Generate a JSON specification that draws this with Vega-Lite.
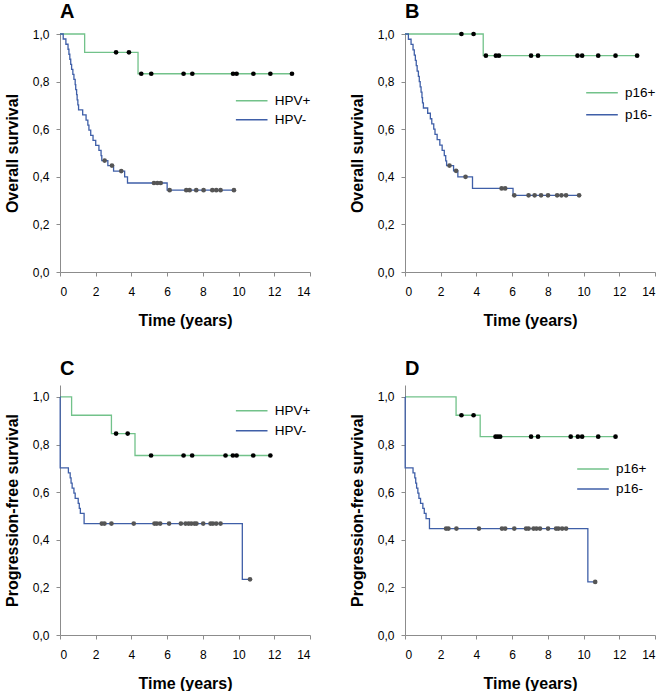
{
"$schema":"https://vega.github.io/schema/vega-lite/v6.json",
"background":"white",
"padding":{"left":4,"top":2,"right":0,"bottom":0},
"config":{
 "view":{"stroke":null},
 "font":"Liberation Sans",
 "axis":{"grid":false,"domainColor":"#8c8c8c","tickColor":"#8c8c8c","tickSize":4,"labelFont":"Liberation Sans","labelFontSize":12,"labelColor":"#000","labelPadding":7,"titleFont":"Liberation Sans","titleFontSize":16,"titleFontWeight":"bold","titleColor":"#000","titlePadding":12},
 "axisX":{"labelPadding":10,"titlePadding":15},
 "title":{"font":"Liberation Sans","fontSize":20,"fontWeight":"bold","anchor":"start","frame":"group","offset":6,"color":"#000"},
 "legend":{"orient":"none","title":null,"symbolType":"stroke","symbolSize":1000,"symbolStrokeWidth":1.5,"labelFont":"Liberation Sans","labelFontSize":13.5,"labelColor":"#000","labelOffset":6,"rowPadding":0,"padding":0}
},
"datasets":{
"A":[
{"g":"HPV+","k":"s","t":0,"s":1},{"g":"HPV+","k":"e","t":1.38,"s":0.923},{"g":"HPV+","k":"c","t":3.14,"s":0.923},{"g":"HPV+","k":"c","t":3.86,"s":0.923},{"g":"HPV+","k":"e","t":4.37,"s":0.833},{"g":"HPV+","k":"c","t":4.55,"s":0.833},{"g":"HPV+","k":"c","t":5.11,"s":0.833},{"g":"HPV+","k":"c","t":6.92,"s":0.833},{"g":"HPV+","k":"c","t":7.41,"s":0.833},{"g":"HPV+","k":"c","t":9.69,"s":0.833},{"g":"HPV+","k":"c","t":9.89,"s":0.833},{"g":"HPV+","k":"c","t":10.83,"s":0.833},{"g":"HPV+","k":"c","t":11.78,"s":0.833},{"g":"HPV+","k":"c","t":12.99,"s":0.833},
{"g":"HPV-","k":"s","t":0,"s":1},{"g":"HPV-","k":"e","t":0.18,"s":0.979},{"g":"HPV-","k":"e","t":0.33,"s":0.957},{"g":"HPV-","k":"e","t":0.45,"s":0.936},{"g":"HPV-","k":"e","t":0.5,"s":0.915},{"g":"HPV-","k":"e","t":0.55,"s":0.894},{"g":"HPV-","k":"e","t":0.6,"s":0.872},{"g":"HPV-","k":"e","t":0.65,"s":0.851},{"g":"HPV-","k":"e","t":0.72,"s":0.83},{"g":"HPV-","k":"e","t":0.78,"s":0.809},{"g":"HPV-","k":"e","t":0.85,"s":0.787},{"g":"HPV-","k":"e","t":0.88,"s":0.766},{"g":"HPV-","k":"e","t":0.93,"s":0.745},{"g":"HPV-","k":"e","t":0.96,"s":0.723},{"g":"HPV-","k":"e","t":1.0,"s":0.702},{"g":"HPV-","k":"e","t":1.04,"s":0.681},{"g":"HPV-","k":"e","t":1.27,"s":0.66},{"g":"HPV-","k":"e","t":1.46,"s":0.638},{"g":"HPV-","k":"e","t":1.56,"s":0.617},{"g":"HPV-","k":"e","t":1.62,"s":0.596},{"g":"HPV-","k":"e","t":1.72,"s":0.574},{"g":"HPV-","k":"e","t":1.85,"s":0.553},{"g":"HPV-","k":"e","t":2.0,"s":0.532},{"g":"HPV-","k":"e","t":2.18,"s":0.511},{"g":"HPV-","k":"e","t":2.3,"s":0.489},{"g":"HPV-","k":"e","t":2.34,"s":0.468},{"g":"HPV-","k":"c","t":2.5,"s":0.468},{"g":"HPV-","k":"e","t":2.68,"s":0.447},{"g":"HPV-","k":"c","t":2.91,"s":0.447},{"g":"HPV-","k":"e","t":3.0,"s":0.424},{"g":"HPV-","k":"c","t":3.43,"s":0.424},{"g":"HPV-","k":"e","t":3.62,"s":0.4},{"g":"HPV-","k":"e","t":3.78,"s":0.374},{"g":"HPV-","k":"c","t":5.26,"s":0.374},{"g":"HPV-","k":"c","t":5.45,"s":0.374},{"g":"HPV-","k":"c","t":5.64,"s":0.374},{"g":"HPV-","k":"e","t":6.0,"s":0.344},{"g":"HPV-","k":"c","t":6.14,"s":0.344},{"g":"HPV-","k":"c","t":7.07,"s":0.344},{"g":"HPV-","k":"c","t":7.26,"s":0.344},{"g":"HPV-","k":"c","t":7.63,"s":0.344},{"g":"HPV-","k":"c","t":8.04,"s":0.344},{"g":"HPV-","k":"c","t":8.53,"s":0.344},{"g":"HPV-","k":"c","t":8.75,"s":0.344},{"g":"HPV-","k":"c","t":8.99,"s":0.344},{"g":"HPV-","k":"c","t":9.74,"s":0.344}
],
"B":[
{"g":"p16+","k":"s","t":0,"s":1},{"g":"p16+","k":"c","t":3.16,"s":1},{"g":"p16+","k":"c","t":3.84,"s":1},{"g":"p16+","k":"e","t":4.38,"s":0.909},{"g":"p16+","k":"c","t":4.53,"s":0.909},{"g":"p16+","k":"c","t":5.09,"s":0.909},{"g":"p16+","k":"c","t":5.26,"s":0.909},{"g":"p16+","k":"c","t":7.06,"s":0.909},{"g":"p16+","k":"c","t":7.45,"s":0.909},{"g":"p16+","k":"c","t":9.66,"s":0.909},{"g":"p16+","k":"c","t":9.92,"s":0.909},{"g":"p16+","k":"c","t":10.82,"s":0.909},{"g":"p16+","k":"c","t":11.79,"s":0.909},{"g":"p16+","k":"c","t":13.0,"s":0.909},
{"g":"p16-","k":"s","t":0,"s":1},{"g":"p16-","k":"e","t":0.19,"s":0.978},{"g":"p16-","k":"e","t":0.34,"s":0.956},{"g":"p16-","k":"e","t":0.45,"s":0.933},{"g":"p16-","k":"e","t":0.52,"s":0.911},{"g":"p16-","k":"e","t":0.58,"s":0.889},{"g":"p16-","k":"e","t":0.63,"s":0.867},{"g":"p16-","k":"e","t":0.68,"s":0.844},{"g":"p16-","k":"e","t":0.75,"s":0.822},{"g":"p16-","k":"e","t":0.8,"s":0.8},{"g":"p16-","k":"e","t":0.85,"s":0.778},{"g":"p16-","k":"e","t":0.9,"s":0.756},{"g":"p16-","k":"e","t":0.95,"s":0.733},{"g":"p16-","k":"e","t":0.98,"s":0.711},{"g":"p16-","k":"e","t":1.03,"s":0.689},{"g":"p16-","k":"e","t":1.27,"s":0.667},{"g":"p16-","k":"e","t":1.42,"s":0.644},{"g":"p16-","k":"e","t":1.5,"s":0.622},{"g":"p16-","k":"e","t":1.61,"s":0.6},{"g":"p16-","k":"e","t":1.68,"s":0.578},{"g":"p16-","k":"e","t":1.8,"s":0.556},{"g":"p16-","k":"e","t":1.95,"s":0.533},{"g":"p16-","k":"e","t":2.08,"s":0.511},{"g":"p16-","k":"e","t":2.2,"s":0.489},{"g":"p16-","k":"e","t":2.28,"s":0.467},{"g":"p16-","k":"e","t":2.33,"s":0.447},{"g":"p16-","k":"c","t":2.49,"s":0.447},{"g":"p16-","k":"e","t":2.72,"s":0.425},{"g":"p16-","k":"c","t":2.86,"s":0.425},{"g":"p16-","k":"e","t":2.96,"s":0.4},{"g":"p16-","k":"c","t":3.39,"s":0.4},{"g":"p16-","k":"e","t":3.78,"s":0.351},{"g":"p16-","k":"c","t":5.41,"s":0.351},{"g":"p16-","k":"c","t":5.61,"s":0.351},{"g":"p16-","k":"e","t":6.05,"s":0.322},{"g":"p16-","k":"c","t":6.12,"s":0.322},{"g":"p16-","k":"c","t":6.92,"s":0.322},{"g":"p16-","k":"c","t":7.26,"s":0.322},{"g":"p16-","k":"c","t":7.62,"s":0.322},{"g":"p16-","k":"c","t":8.01,"s":0.322},{"g":"p16-","k":"c","t":8.52,"s":0.322},{"g":"p16-","k":"c","t":8.76,"s":0.322},{"g":"p16-","k":"c","t":9.02,"s":0.322},{"g":"p16-","k":"c","t":9.75,"s":0.322}
],
"C":[
{"g":"HPV+","k":"s","t":0,"s":1},{"g":"HPV+","k":"e","t":0.65,"s":0.923},{"g":"HPV+","k":"e","t":2.88,"s":0.846},{"g":"HPV+","k":"c","t":3.14,"s":0.846},{"g":"HPV+","k":"c","t":3.79,"s":0.846},{"g":"HPV+","k":"e","t":4.2,"s":0.754},{"g":"HPV+","k":"c","t":5.1,"s":0.754},{"g":"HPV+","k":"c","t":6.92,"s":0.754},{"g":"HPV+","k":"c","t":7.4,"s":0.754},{"g":"HPV+","k":"c","t":9.27,"s":0.754},{"g":"HPV+","k":"c","t":9.68,"s":0.754},{"g":"HPV+","k":"c","t":9.89,"s":0.754},{"g":"HPV+","k":"c","t":10.82,"s":0.754},{"g":"HPV+","k":"c","t":11.78,"s":0.754},
{"g":"HPV-","k":"s","t":0,"s":1},{"g":"HPV-","k":"e","t":0.01,"s":0.702},{"g":"HPV-","k":"e","t":0.47,"s":0.681},{"g":"HPV-","k":"e","t":0.57,"s":0.66},{"g":"HPV-","k":"e","t":0.62,"s":0.638},{"g":"HPV-","k":"e","t":0.68,"s":0.617},{"g":"HPV-","k":"e","t":0.78,"s":0.596},{"g":"HPV-","k":"e","t":0.85,"s":0.574},{"g":"HPV-","k":"e","t":1.02,"s":0.553},{"g":"HPV-","k":"e","t":1.08,"s":0.532},{"g":"HPV-","k":"e","t":1.14,"s":0.511},{"g":"HPV-","k":"e","t":1.35,"s":0.468},{"g":"HPV-","k":"c","t":2.34,"s":0.468},{"g":"HPV-","k":"c","t":2.49,"s":0.468},{"g":"HPV-","k":"c","t":2.88,"s":0.468},{"g":"HPV-","k":"c","t":4.13,"s":0.468},{"g":"HPV-","k":"c","t":5.29,"s":0.468},{"g":"HPV-","k":"c","t":5.42,"s":0.468},{"g":"HPV-","k":"c","t":5.61,"s":0.468},{"g":"HPV-","k":"c","t":6.11,"s":0.468},{"g":"HPV-","k":"c","t":6.77,"s":0.468},{"g":"HPV-","k":"c","t":7.03,"s":0.468},{"g":"HPV-","k":"c","t":7.2,"s":0.468},{"g":"HPV-","k":"c","t":7.35,"s":0.468},{"g":"HPV-","k":"c","t":7.53,"s":0.468},{"g":"HPV-","k":"c","t":7.64,"s":0.468},{"g":"HPV-","k":"c","t":8.02,"s":0.468},{"g":"HPV-","k":"c","t":8.43,"s":0.468},{"g":"HPV-","k":"c","t":8.56,"s":0.468},{"g":"HPV-","k":"c","t":8.75,"s":0.468},{"g":"HPV-","k":"c","t":8.99,"s":0.468},{"g":"HPV-","k":"e","t":10.21,"s":0.234},{"g":"HPV-","k":"c","t":10.64,"s":0.234}
],
"D":[
{"g":"p16+","k":"s","t":0,"s":1},{"g":"p16+","k":"e","t":2.86,"s":0.923},{"g":"p16+","k":"c","t":3.16,"s":0.923},{"g":"p16+","k":"c","t":3.84,"s":0.923},{"g":"p16+","k":"e","t":4.21,"s":0.833},{"g":"p16+","k":"c","t":5.07,"s":0.833},{"g":"p16+","k":"c","t":5.2,"s":0.833},{"g":"p16+","k":"c","t":5.33,"s":0.833},{"g":"p16+","k":"c","t":7.06,"s":0.833},{"g":"p16+","k":"c","t":7.45,"s":0.833},{"g":"p16+","k":"c","t":9.28,"s":0.833},{"g":"p16+","k":"c","t":9.68,"s":0.833},{"g":"p16+","k":"c","t":9.92,"s":0.833},{"g":"p16+","k":"c","t":10.82,"s":0.833},{"g":"p16+","k":"c","t":11.79,"s":0.833},
{"g":"p16-","k":"s","t":0,"s":1},{"g":"p16-","k":"e","t":0.01,"s":0.702},{"g":"p16-","k":"e","t":0.45,"s":0.681},{"g":"p16-","k":"e","t":0.55,"s":0.66},{"g":"p16-","k":"e","t":0.6,"s":0.638},{"g":"p16-","k":"e","t":0.65,"s":0.617},{"g":"p16-","k":"e","t":0.72,"s":0.596},{"g":"p16-","k":"e","t":0.78,"s":0.574},{"g":"p16-","k":"e","t":0.87,"s":0.553},{"g":"p16-","k":"e","t":1.0,"s":0.532},{"g":"p16-","k":"e","t":1.08,"s":0.511},{"g":"p16-","k":"e","t":1.18,"s":0.489},{"g":"p16-","k":"e","t":1.37,"s":0.447},{"g":"p16-","k":"c","t":2.3,"s":0.447},{"g":"p16-","k":"c","t":2.43,"s":0.447},{"g":"p16-","k":"c","t":2.88,"s":0.447},{"g":"p16-","k":"c","t":4.14,"s":0.447},{"g":"p16-","k":"c","t":5.43,"s":0.447},{"g":"p16-","k":"c","t":5.61,"s":0.447},{"g":"p16-","k":"c","t":6.12,"s":0.447},{"g":"p16-","k":"c","t":6.78,"s":0.447},{"g":"p16-","k":"c","t":6.92,"s":0.447},{"g":"p16-","k":"c","t":7.2,"s":0.447},{"g":"p16-","k":"c","t":7.36,"s":0.447},{"g":"p16-","k":"c","t":7.56,"s":0.447},{"g":"p16-","k":"c","t":8.01,"s":0.447},{"g":"p16-","k":"c","t":8.46,"s":0.447},{"g":"p16-","k":"c","t":8.59,"s":0.447},{"g":"p16-","k":"c","t":8.8,"s":0.447},{"g":"p16-","k":"c","t":9.02,"s":0.447},{"g":"p16-","k":"e","t":10.24,"s":0.223},{"g":"p16-","k":"c","t":10.65,"s":0.223}
]
},
"spacing":31,
"resolve":{"scale":{"stroke":"independent","fill":"independent"},"legend":{"stroke":"independent"}},
"vconcat":[
{"spacing":38,
 "resolve":{"scale":{"stroke":"independent","fill":"independent"},"legend":{"stroke":"independent"}},
 "hconcat":[
 {"width":250,"height":238,"title":"A","data":{"name":"A"},
  "encoding":{
   "x":{"field":"t","type":"quantitative","scale":{"domain":[0,14],"nice":false},"axis":{"values":[0,2,4,6,8,10,12,14],"title":"Time (years)","format":"d"}},
   "y":{"field":"s","type":"quantitative","scale":{"domain":[0,1],"nice":false},"axis":{"values":[0,0.2,0.4,0.6,0.8,1],"title":"Overall survival","labelExpr":"replace(format(datum.value,'.1f'),'.',',')"}}},
  "layer":[
   {"mark":{"type":"line","interpolate":"step-after","strokeWidth":1.3},
    "encoding":{"stroke":{"field":"g","type":"nominal","scale":{"domain":["HPV+","HPV-"],"range":["#72c28a","#3f5fa8"]},"legend":{"legendX":174.7,"legendY":57.5,"clipHeight":18.4}}}},
   {"transform":[{"filter":"datum.k=='c'"}],"mark":{"type":"circle","size":22,"opacity":1},
    "encoding":{"fill":{"field":"g","type":"nominal","scale":{"domain":["HPV+","HPV-"],"range":["#000000","#555555"]},"legend":null}}}
  ]},
 {"width":250,"height":238,"title":"B","data":{"name":"B"},
  "encoding":{
   "x":{"field":"t","type":"quantitative","scale":{"domain":[0,14],"nice":false},"axis":{"values":[0,2,4,6,8,10,12,14],"title":"Time (years)","format":"d"}},
   "y":{"field":"s","type":"quantitative","scale":{"domain":[0,1],"nice":false},"axis":{"values":[0,0.2,0.4,0.6,0.8,1],"title":"Overall survival","labelExpr":"replace(format(datum.value,'.1f'),'.',',')"}}},
  "layer":[
   {"mark":{"type":"line","interpolate":"step-after","strokeWidth":1.3},
    "encoding":{"stroke":{"field":"g","type":"nominal","scale":{"domain":["p16+","p16-"],"range":["#72c28a","#3f5fa8"]},"legend":{"legendX":180,"legendY":48,"clipHeight":21.3}}}},
   {"transform":[{"filter":"datum.k=='c'"}],"mark":{"type":"circle","size":22,"opacity":1},
    "encoding":{"fill":{"field":"g","type":"nominal","scale":{"domain":["p16+","p16-"],"range":["#000000","#555555"]},"legend":null}}}
  ]}
 ]},
{"spacing":38,
 "resolve":{"scale":{"stroke":"independent","fill":"independent"},"legend":{"stroke":"independent"}},
 "hconcat":[
 {"width":250,"height":250,"title":"C","data":{"name":"C"},
  "encoding":{
   "x":{"field":"t","type":"quantitative","scale":{"domain":[0,14],"nice":false},"axis":{"values":[0,2,4,6,8,10,12,14],"title":"Time (years)","format":"d"}},
   "y":{"field":"s","type":"quantitative","scale":{"domain":[0,1.05],"nice":false},"axis":{"values":[0,0.2,0.4,0.6,0.8,1],"title":"Progression-free survival","labelExpr":"replace(format(datum.value,'.1f'),'.',',')"}}},
  "layer":[
   {"mark":{"type":"line","interpolate":"step-after","strokeWidth":1.3},
    "encoding":{"stroke":{"field":"g","type":"nominal","scale":{"domain":["HPV+","HPV-"],"range":["#72c28a","#3f5fa8"]},"legend":{"legendX":174.7,"legendY":16,"clipHeight":19.3}}}},
   {"transform":[{"filter":"datum.k=='c'"}],"mark":{"type":"circle","size":22,"opacity":1},
    "encoding":{"fill":{"field":"g","type":"nominal","scale":{"domain":["HPV+","HPV-"],"range":["#000000","#555555"]},"legend":null}}}
  ]},
 {"width":250,"height":250,"title":"D","data":{"name":"D"},
  "encoding":{
   "x":{"field":"t","type":"quantitative","scale":{"domain":[0,14],"nice":false},"axis":{"values":[0,2,4,6,8,10,12,14],"title":"Time (years)","format":"d"}},
   "y":{"field":"s","type":"quantitative","scale":{"domain":[0,1.05],"nice":false},"axis":{"values":[0,0.2,0.4,0.6,0.8,1],"title":"Progression-free survival","labelExpr":"replace(format(datum.value,'.1f'),'.',',')"}}},
  "layer":[
   {"mark":{"type":"line","interpolate":"step-after","strokeWidth":1.3},
    "encoding":{"stroke":{"field":"g","type":"nominal","scale":{"domain":["p16+","p16-"],"range":["#72c28a","#3f5fa8"]},"legend":{"legendX":171,"legendY":74.3,"clipHeight":19.4}}}},
   {"transform":[{"filter":"datum.k=='c'"}],"mark":{"type":"circle","size":22,"opacity":1},
    "encoding":{"fill":{"field":"g","type":"nominal","scale":{"domain":["p16+","p16-"],"range":["#000000","#555555"]},"legend":null}}}
  ]}
 ]}
]
}
